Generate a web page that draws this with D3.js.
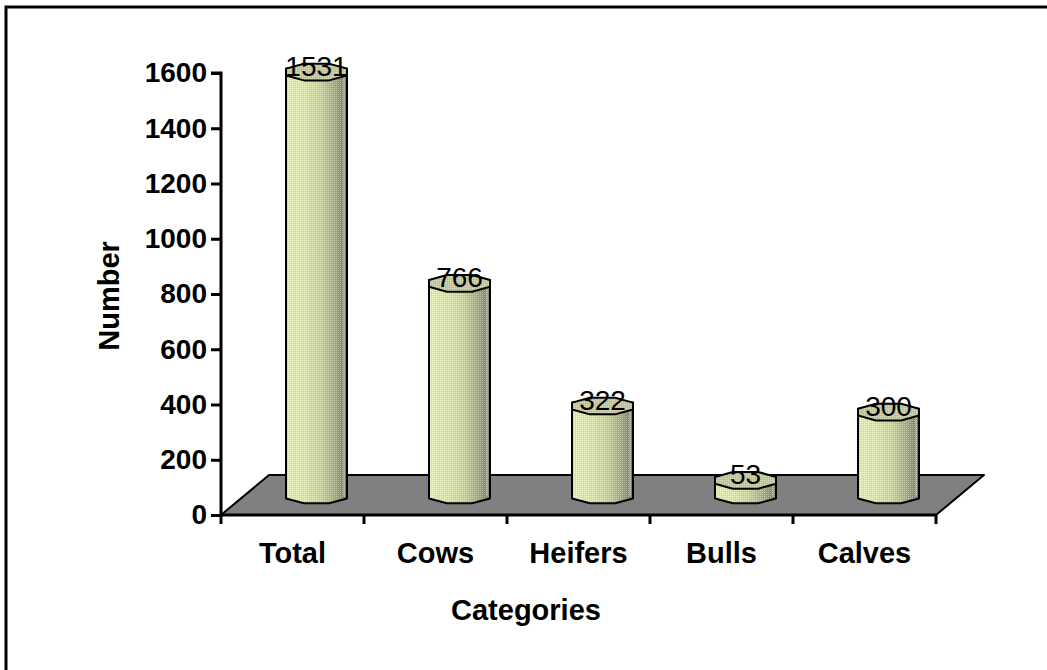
<!DOCTYPE html>
<html>
<head>
<meta charset="utf-8">
<script src="https://cdn.jsdelivr.net/npm/d3@7/dist/d3.min.js"></script>
<style>
  html, body { margin: 0; padding: 0; background: #fff; }
  svg { display: block; font-family: Arial, "Liberation Sans", sans-serif; }
</style>
</head>
<body>
<svg id="chart" width="1047" height="670"></svg>
<script>
// Herd composition
const categories = ["Total", "Cows", "Heifers", "Bulls", "Calves"];
const values = [1531, 766, 322, 53, 300];
const yTicks = [0, 200, 400, 600, 800, 1000, 1200, 1400, 1600];
const yTitle = "Number";
const xTitle = "Categories";

const svg = d3.select("#chart");

// chart frame
svg.append("rect")
  .attr("x", 6).attr("y", 7)
  .attr("width", 1200).attr("height", 800)
  .attr("fill", "none").attr("stroke", "#000").attr("stroke-width", 3);

// plot geometry (front plane) and floor depth
const plotL = 221, plotR = 936, plotT = 73, plotB = 515;
const depthX = 48, depthY = -40;

const y = d3.scaleLinear().domain([0, 1600]).range([plotB, plotT]);
const x = d3.scaleBand().domain(categories).range([plotL, plotR]).paddingInner(0).paddingOuter(0);

const defs = svg.append("defs");
const grad = defs.append("linearGradient").attr("id", "barGrad")
  .attr("x1", 0).attr("x2", 1).attr("y1", 0).attr("y2", 0);
[[0, "#e4f0a4"], [0.3, "#dae898"], [0.55, "#c9d68c"], [0.8, "#a0aa74"], [1, "#6a7256"]]
  .forEach(([o, c]) => grad.append("stop").attr("offset", o).attr("stop-color", c));

const dither = defs.append("pattern").attr("id", "dither")
  .attr("patternUnits", "userSpaceOnUse").attr("width", 2).attr("height", 2);
dither.append("rect").attr("x", 0).attr("y", 0).attr("width", 1).attr("height", 1)
  .attr("fill", "#ffffff").attr("fill-opacity", 0.35);
dither.append("rect").attr("x", 1).attr("y", 1).attr("width", 1).attr("height", 1)
  .attr("fill", "#a0c030").attr("fill-opacity", 0.32);

// floor
const floorPts = [
  [plotL, plotB], [plotL + depthX, plotB + depthY],
  [plotR + depthX, plotB + depthY], [plotR, plotB]
];
svg.append("polygon")
  .attr("points", floorPts.map(p => p.join(",")).join(" "))
  .attr("fill", "#808080").attr("stroke", "#000").attr("stroke-width", 2)
  .attr("stroke-linejoin", "round");

// y axis
const yAxis = d3.axisLeft(y).tickValues(yTicks).tickFormat(d3.format("d"))
  .tickSize(10).tickPadding(4);
const gy = svg.append("g").attr("transform", `translate(${plotL},0)`).call(yAxis);
gy.select(".domain").attr("stroke-width", 3).attr("d", `M-10,${plotT}H0V${plotB}`);
gy.selectAll(".tick line").attr("stroke-width", 3);
gy.selectAll(".tick text")
  .attr("font-size", 28).attr("font-weight", "bold").attr("fill", "#000")
  .attr("font-family", "Arial, 'Liberation Sans', sans-serif");

// x axis (front edge of the floor)
const xAxis = d3.axisBottom(x).tickSize(0).tickFormat("");
const gx = svg.append("g").attr("transform", `translate(0,${plotB})`).call(xAxis);
gx.select(".domain").attr("stroke-width", 3).attr("d", `M${plotL},0H${plotR}`);
const boundaries = categories.map(c => x(c)).concat([plotR]);
gx.selectAll(".bound").data(boundaries).join("line").attr("class", "bound")
  .attr("x1", d => d).attr("x2", d => d).attr("y1", 0).attr("y2", 9)
  .attr("stroke", "#000").attr("stroke-width", 3);
gx.selectAll(".cat").data(categories).join("text").attr("class", "cat")
  .attr("x", d => x(d) + x.bandwidth() / 2).attr("y", 48)
  .attr("text-anchor", "middle").attr("font-size", 29).attr("font-weight", "bold")
  .attr("fill", "#000")
  .text(d => d);

// bars: octagonal columns standing at mid-depth of the floor
const r = 33, ry = 9;
const angles = d3.range(8).map(k => (22.5 + 45 * k) * Math.PI / 180);
const midX = depthX / 2, midY = depthY / 2;

function vert(cx, cy, a) { return [cx + r * Math.cos(a), cy + ry * Math.sin(a)]; }

const bars = svg.append("g");
categories.forEach((c, i) => {
  const cx = x(c) + x.bandwidth() / 2 + midX;
  const yb = y(0) + midY;
  const yt = y(values[i]) + midY;
  const a = k => angles[k];
  // silhouette of the body: top back-left -> bottom front chain -> top back-right
  const body = [
    vert(cx, yt, a(4)), vert(cx, yb, a(3)), vert(cx, yb, a(2)),
    vert(cx, yb, a(1)), vert(cx, yb, a(0)), vert(cx, yt, a(7))
  ];
  const g = bars.append("g");
  const bodyPath = "M" + body.map(p => p.join(",")).join("L") + "Z";
  g.append("path").attr("d", bodyPath).attr("fill", "url(#barGrad)");
  g.append("path").attr("d", bodyPath).attr("fill", "url(#dither)");
  // thin highlight near the right edge
  g.append("line")
    .attr("x1", cx + r * Math.cos(a(0)) - 3).attr("x2", cx + r * Math.cos(a(0)) - 3)
    .attr("y1", yt).attr("y2", yb + ry * Math.sin(a(0)) - 2)
    .attr("stroke", "#ffffff").attr("stroke-opacity", 0.6).attr("stroke-width", 1);
  g.append("path").attr("d", bodyPath).attr("fill", "none")
    .attr("stroke", "#000").attr("stroke-width", 2).attr("stroke-linejoin", "round");
  // top cap
  const cap = angles.map(t => vert(cx, yt, t));
  const capPath = "M" + cap.map(p => p.join(",")).join("L") + "Z";
  g.append("path").attr("d", capPath).attr("fill", "#c2c88e");
  g.append("path").attr("d", capPath).attr("fill", "url(#dither)");
  g.append("path").attr("d", capPath).attr("fill", "none")
    .attr("stroke", "#000").attr("stroke-width", 2).attr("stroke-linejoin", "round");
  // value label
  g.append("text").attr("x", cx).attr("y", yt + 4)
    .attr("text-anchor", "middle").attr("font-size", 28).attr("fill", "#000")
    .text(values[i]);
});

// axis titles
svg.append("text")
  .attr("transform", `translate(119,${(plotT + plotB) / 2 + 2}) rotate(-90)`)
  .attr("text-anchor", "middle").attr("font-size", 29).attr("font-weight", "bold")
  .text(yTitle);
svg.append("text").attr("x", 526).attr("y", 620)
  .attr("text-anchor", "middle").attr("font-size", 29).attr("font-weight", "bold")
  .text(xTitle);
</script>
</body>
</html>
